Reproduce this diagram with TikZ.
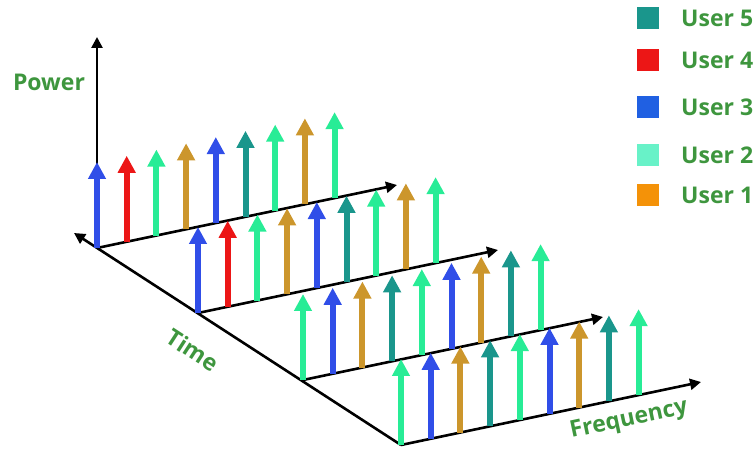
\documentclass[tikz,border=0pt]{standalone}
\usepackage{fontspec}
\setmainfont{Open Sans}
\usetikzlibrary{arrows.meta}

\definecolor{ublue}{RGB}{48,78,232}
\definecolor{ured}{RGB}{236,22,22}
\definecolor{ugreen}{RGB}{40,236,150}
\definecolor{ugold}{RGB}{204,150,44}
\definecolor{uteal}{RGB}{26,150,140}
\definecolor{kblue}{RGB}{32,96,226}
\definecolor{kgreen}{RGB}{104,242,200}
\definecolor{korange}{RGB}{244,146,8}
\definecolor{lbl}{RGB}{62,150,62}

\tikzset{
    axis/.style={line width=2.6pt, -{Triangle[length=11pt,width=11pt]}},
    user/.style={line width=6pt, draw=#1, -{Triangle[length=17pt,width=17pt]}},
    key/.style={minimum size=22pt, inner sep=0pt}
}

\begin{document}
\begin{tikzpicture}[x=1pt, y=-1pt, every node/.style={font=\bfseries\fontsize{23}{27}\selectfont, text=lbl}]
    \useasboundingbox (0,0) rectangle (756,454);

    \coordinate (o1) at (97,248);
    \coordinate (o2) at (198,313);
    \coordinate (o3) at (303,380);
    \coordinate (o4) at (401,445);
    \coordinate (p) at (97,37);
    \coordinate (t) at (74,233);

    \draw[axis] (o4) -- (t);
    \draw[axis] (o1) -- (p);

    \foreach \r/\cols in {1/{ublue,ured,ugreen,ugold,ublue,uteal,ugreen,ugold,ugreen},
                          2/{ublue,ured,ugreen,ugold,ublue,uteal,ugreen,ugold,ugreen},
                          3/{ugreen,ublue,ugold,uteal,ugreen,ublue,ugold,uteal,ugreen},
                          4/{ugreen,ublue,ugold,uteal,ugreen,ublue,ugold,uteal,ugreen}} {
        \coordinate (f\r) at ([shift={(300,-63)}]o\r);
        \draw[axis] (o\r) -- (f\r);
        \foreach \c [count=\i from 0] in \cols
            \draw[user=\c, shift={(o\r)}] (\i*29.7,-\i*6.24) -- ++(0,-86);
    }

    \node (power) at (49,82) {Power};
    \node[rotate=-33] (time) at (193,350) {Time};
    \node[rotate=12] (freq) at (629,420) {Frequency};

    \foreach \u/\y/\c in {5/18/uteal, 4/60/ured, 3/107/kblue, 2/155/kgreen, 1/195/korange} {
        \node[key, fill=\c] (k\u) at (648,\y) {};
        \node[anchor=west, inner sep=0pt] (l\u) at (681,\y) {User \u};
    }
\end{tikzpicture}
\end{document}
